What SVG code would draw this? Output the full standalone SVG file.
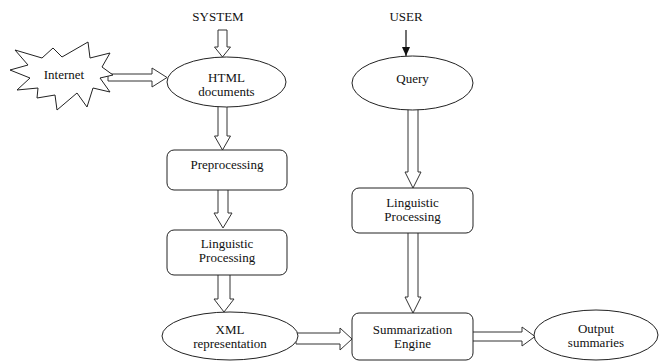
<svg xmlns="http://www.w3.org/2000/svg" width="665" height="362" viewBox="0 0 665 362">
<defs>
<style>
.n{fill:#fff;stroke:#222;stroke-width:1}
.c{fill:#fff;stroke:#333;stroke-width:1;stroke-linejoin:miter}
.t{font-family:'Liberation Serif',serif;font-size:13px;fill:#111;text-anchor:middle}
</style>
<marker id="ah" markerWidth="10" markerHeight="10" refX="9" refY="5" orient="auto" markerUnits="userSpaceOnUse">
<path d="M0,1 L9,5 L0,9 Z" fill="#111"/>
</marker>
</defs>
<rect width="665" height="362" fill="#fff"/>
<g id="connectors">
<polygon class="c" points="218,30 227,30 227,47 230.5,47 222.5,57 214.5,47 218,47"/>
<polygon class="c" points="218,105 227,105 227,136 230.5,136 222.5,150 214.5,136 218,136"/>
<polygon class="c" points="218,189 228,189 228,213 232,213 223,228 214,213 218,213"/>
<polygon class="c" points="218,274 230,274 230,299 234,299 224,312 214,299 218,299"/>
<polygon class="c" points="408,108 418,108 418,172 421,172 413,188 405,172 408,172"/>
<polygon class="c" points="408,232 418,232 418,297 421,297 413,313 405,297 408,297"/>
<polygon class="c" points="108,74 152,74 152,68 167,77.5 152,87 152,81 108,81"/>
<polygon class="c" points="296,333 340,333 340,328 352,339 340,350 340,344 296,344"/>
<polygon class="c" points="471,332 522,332 522,327 535,336.5 522,346 522,341 471,341"/>
<line x1="406" y1="30" x2="406" y2="56" stroke="#111" stroke-width="1.2" marker-end="url(#ah)"/>
</g>
<g font-family="Liberation Serif, serif">
<g id="system"><text class="t" x="218" y="21">SYSTEM</text></g>
<g id="user"><text class="t" x="406" y="21">USER</text></g>
<g id="internet">
<polygon class="n" points="15,50 42,58 53,48 62,57 88,42 90,58 110,53 102,67 113,75 100,78 110,92 93,88 87,107 77,93 57,110 55,95 37,98 38,88 17,90 30,78 10,70 28,65"/>
<text class="t" x="64" y="79">Internet</text>
</g>
<g id="html">
<ellipse class="n" cx="226.5" cy="82" rx="59.5" ry="25"/>
<text class="t" x="226.5" y="82">HTML</text>
<text class="t" x="226.5" y="96">documents</text>
</g>
<g id="preprocessing">
<rect class="n" x="167" y="150" width="120" height="40" rx="7"/>
<text class="t" x="227" y="169">Preprocessing</text>
</g>
<g id="linguistic1">
<rect class="n" x="167" y="230" width="120" height="45" rx="7"/>
<text class="t" x="227" y="248">Linguistic</text>
<text class="t" x="227" y="262">Processing</text>
</g>
<g id="xml">
<ellipse class="n" cx="230" cy="336" rx="68" ry="24"/>
<text class="t" x="230" y="334">XML</text>
<text class="t" x="230" y="348">representation</text>
</g>
<g id="query">
<ellipse class="n" cx="412.5" cy="83" rx="60.5" ry="27"/>
<text class="t" x="412.5" y="83">Query</text>
</g>
<g id="linguistic2">
<rect class="n" x="352" y="188" width="121" height="45" rx="7"/>
<text class="t" x="412.5" y="207">Linguistic</text>
<text class="t" x="412.5" y="221">Processing</text>
</g>
<g id="summarization">
<rect class="n" x="352" y="313" width="121" height="47" rx="7"/>
<text class="t" x="412.5" y="334">Summarization</text>
<text class="t" x="412.5" y="348">Engine</text>
</g>
<g id="output">
<ellipse class="n" cx="596" cy="335" rx="62" ry="25"/>
<text class="t" x="596" y="333">Output</text>
<text class="t" x="596" y="347">summaries</text>
</g>
</g>
</svg>
